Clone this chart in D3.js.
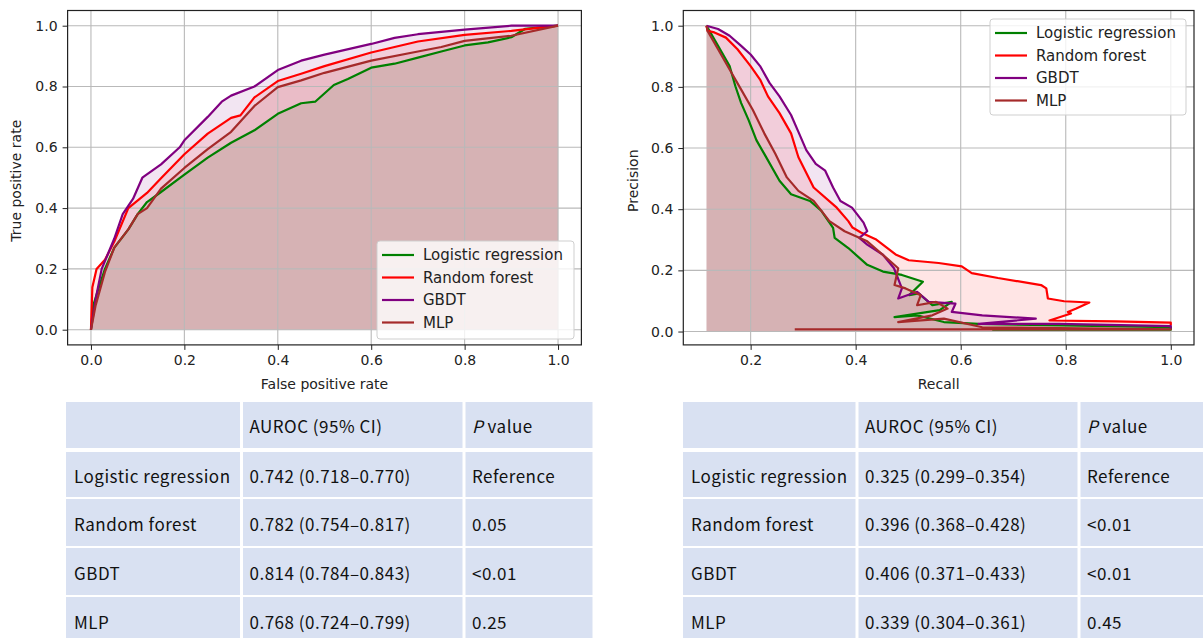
<!DOCTYPE html>
<html>
<head>
<meta charset="utf-8">
<script src="https://cdn.jsdelivr.net/npm/d3@7"></script>
<style>
  body { margin: 0; background: #fff; }
  svg { display: block; }
  .chart text { font-family: "DejaVu Sans", sans-serif; fill: #222; }
  .tbl text { font-family: "Noto Sans CJK JP", "Noto Sans", sans-serif; fill: #111; font-size: 17px; letter-spacing: 0.5px; }
</style>
</head>
<body>
<svg id="fig"></svg>
<script>
const models = ["Logistic regression", "Random forest", "GBDT", "MLP"];
const colors = ["#008000", "#ff0000", "#800080", "#a52a2a"];

// ROC curves, [false positive rate, true positive rate]
const rocLR = [[0,0],[0.005,0.08],[0.015,0.13],[0.03,0.2],[0.05,0.27],[0.08,0.33],[0.1,0.38],[0.12,0.42],[0.15,0.453],[0.2,0.51],[0.25,0.566],[0.3,0.615],[0.35,0.656],[0.4,0.71],[0.45,0.745],[0.48,0.75],[0.52,0.805],[0.55,0.825],[0.6,0.862],[0.65,0.875],[0.7,0.895],[0.75,0.915],[0.8,0.935],[0.85,0.945],[0.9,0.962],[0.93,0.99],[1,1]];
const rocRF = [[0,0],[0.003,0.14],[0.012,0.2],[0.03,0.23],[0.05,0.29],[0.08,0.4],[0.12,0.45],[0.15,0.498],[0.2,0.577],[0.25,0.645],[0.3,0.697],[0.32,0.705],[0.35,0.764],[0.4,0.818],[0.45,0.842],[0.5,0.867],[0.6,0.912],[0.7,0.948],[0.8,0.97],[0.9,0.983],[1,1]];
const rocGB = [[0,0],[0.01,0.1],[0.023,0.2],[0.05,0.3],[0.068,0.38],[0.09,0.43],[0.11,0.5],[0.15,0.544],[0.19,0.6],[0.2,0.623],[0.25,0.7],[0.28,0.75],[0.3,0.77],[0.35,0.8],[0.4,0.854],[0.45,0.885],[0.5,0.905],[0.6,0.94],[0.65,0.96],[0.7,0.972],[0.8,0.987],[0.9,1.0],[1,1]];
const rocMLP = [[0,0],[0.01,0.08],[0.03,0.19],[0.05,0.27],[0.08,0.33],[0.1,0.38],[0.12,0.4],[0.15,0.464],[0.2,0.532],[0.25,0.594],[0.3,0.651],[0.35,0.736],[0.4,0.798],[0.45,0.82],[0.5,0.845],[0.6,0.885],[0.7,0.915],[0.75,0.93],[0.8,0.95],[0.9,0.967],[1,1]];

// Precision-recall curves, [recall, precision]
const prLR = [[0.116,1.0],[0.118,0.994],[0.138,0.934],[0.16,0.868],[0.171,0.802],[0.182,0.747],[0.196,0.692],[0.211,0.626],[0.226,0.581],[0.255,0.493],[0.277,0.449],[0.313,0.427],[0.335,0.394],[0.357,0.339],[0.36,0.306],[0.386,0.273],[0.422,0.218],[0.452,0.196],[0.488,0.185],[0.528,0.163],[0.502,0.119],[0.52,0.125],[0.546,0.086],[0.583,0.097],[0.56,0.07],[0.474,0.047],[0.517,0.053],[0.568,0.031],[0.634,0.025],[1.0,0.014],[1.0,0.006],[0.66,0.006]];
const prRF = [[0.116,1.0],[0.118,0.983],[0.131,0.978],[0.153,0.961],[0.175,0.923],[0.2,0.868],[0.218,0.824],[0.233,0.769],[0.255,0.714],[0.277,0.648],[0.291,0.57],[0.32,0.471],[0.364,0.405],[0.386,0.361],[0.394,0.34],[0.41,0.324],[0.438,0.302],[0.476,0.252],[0.501,0.233],[0.558,0.224],[0.602,0.213],[0.621,0.191],[0.671,0.175],[0.753,0.152],[0.763,0.141],[0.766,0.108],[0.797,0.099],[0.845,0.095],[0.82,0.075],[0.804,0.064],[0.81,0.059],[0.769,0.036],[0.895,0.033],[1.0,0.029],[1.0,0.02]];
const prGB = [[0.116,1.0],[0.138,0.989],[0.16,0.967],[0.182,0.934],[0.2,0.906],[0.218,0.868],[0.236,0.813],[0.255,0.769],[0.277,0.708],[0.291,0.653],[0.306,0.593],[0.324,0.548],[0.342,0.526],[0.357,0.471],[0.371,0.427],[0.393,0.405],[0.415,0.356],[0.422,0.328],[0.407,0.306],[0.422,0.284],[0.452,0.251],[0.473,0.207],[0.488,0.141],[0.481,0.108],[0.517,0.13],[0.539,0.097],[0.59,0.091],[0.583,0.064],[0.641,0.053],[0.743,0.042],[0.634,0.025],[0.787,0.025],[1.0,0.018],[1.0,0.009]];
const prMLP = [[0.116,1.0],[0.118,0.983],[0.138,0.923],[0.16,0.857],[0.182,0.791],[0.204,0.725],[0.226,0.648],[0.247,0.581],[0.269,0.504],[0.291,0.46],[0.32,0.427],[0.35,0.361],[0.379,0.328],[0.422,0.295],[0.459,0.24],[0.481,0.207],[0.474,0.152],[0.495,0.141],[0.524,0.119],[0.517,0.086],[0.553,0.097],[0.575,0.075],[0.546,0.053],[0.481,0.031],[0.568,0.042],[0.641,0.014],[1.0,0.007],[0.284,0.007]];

const rocTicksX = [0, 0.2, 0.4, 0.6, 0.8, 1.0];
const prTicksX = [0.2, 0.4, 0.6, 0.8, 1.0];
const ticksY = [0, 0.2, 0.4, 0.6, 0.8, 1.0];

// tables
const tableHeader = ["", "AUROC (95% CI)", "P value"];
const rocAuc = ["0.742 (0.718–0.770)", "0.782 (0.754–0.817)", "0.814 (0.784–0.843)", "0.768 (0.724–0.799)"];
const rocP = ["Reference", "0.05", "<0.01", "0.25"];
const prAuc = ["0.325 (0.299–0.354)", "0.396 (0.368–0.428)", "0.406 (0.371–0.433)", "0.339 (0.304–0.361)"];
const prP = ["Reference", "<0.01", "<0.01", "0.45"];

const W = 1203, H = 638;
const svg = d3.select("#fig").attr("width", W).attr("height", H);

function pad(ext) {
  const m = (ext[1] - ext[0]) * 0.05;
  return [ext[0] - m, ext[1] + m];
}

function drawPanel(opt) {
  const curves = opt.series.map((v, i) => ({ name: models[i], color: colors[i], values: v }));
  const allX = curves.flatMap(c => c.values.map(d => d[0]));
  const allY = curves.flatMap(c => c.values.map(d => d[1]));
  const x = d3.scaleLinear().domain(pad(d3.extent(allX))).range(opt.xRange);
  const y = d3.scaleLinear().domain(pad(d3.extent(allY))).range(opt.yRange);
  const [x0, x1] = opt.xRange, [y0, y1] = [opt.yRange[1], opt.yRange[0]];

  const g = svg.append("g").attr("class", "chart");
  const clipId = "clip" + opt.id;
  g.append("clipPath").attr("id", clipId)
    .append("rect").attr("x", x0).attr("y", y0).attr("width", x1 - x0).attr("height", y1 - y0);
  const plot = g.append("g").attr("clip-path", `url(#${clipId})`);

  const area = d3.area().x(d => x(d[0])).y0(y(0)).y1(d => y(d[1]));
  const line = d3.line().x(d => x(d[0])).y(d => y(d[1]));

  plot.append("g").selectAll("path").data(curves).join("path")
    .attr("d", d => area(d.values))
    .attr("fill", d => d.color)
    .attr("fill-opacity", 0.1);

  // grid
  plot.append("g").selectAll("line").data(opt.xTicks).join("line")
    .attr("x1", d => x(d)).attr("x2", d => x(d)).attr("y1", y0).attr("y2", y1)
    .attr("stroke", "#b9b9b9").attr("stroke-width", 1.1);
  plot.append("g").selectAll("line").data(ticksY).join("line")
    .attr("y1", d => y(d)).attr("y2", d => y(d)).attr("x1", x0).attr("x2", x1)
    .attr("stroke", "#b9b9b9").attr("stroke-width", 1.1);

  plot.append("g").selectAll("path").data(curves).join("path")
    .attr("d", d => line(d.values))
    .attr("fill", "none")
    .attr("stroke", d => d.color)
    .attr("stroke-width", 2.2)
    .attr("stroke-linejoin", "round");

  // axes
  const xAxis = g.append("g").attr("transform", `translate(0,${y1})`)
    .call(d3.axisBottom(x).tickValues(opt.xTicks).tickSize(5).tickPadding(5).tickFormat(d3.format(".1f")));
  const yAxis = g.append("g").attr("transform", `translate(${x0},0)`)
    .call(d3.axisLeft(y).tickValues(ticksY).tickSize(5).tickPadding(5).tickFormat(d3.format(".1f")));
  [xAxis, yAxis].forEach(a => {
    a.select(".domain").remove();
    a.selectAll("line").attr("stroke", "#222");
    a.selectAll("text").style("font-size", "14px").attr("fill", "#222");
  });

  g.append("rect").attr("x", x0).attr("y", y0).attr("width", x1 - x0).attr("height", y1 - y0)
    .attr("fill", "none").attr("stroke", "#222").attr("stroke-width", 1.2);

  g.append("text").attr("x", (x0 + x1) / 2).attr("y", 389).attr("text-anchor", "middle")
    .style("font-size", "14px").text(opt.xLabel);
  g.append("text").attr("transform", `translate(${opt.yLabelX},${(y0 + y1) / 2 + 3}) rotate(-90)`)
    .attr("text-anchor", "middle").style("font-size", "14px").text(opt.yLabel);

  // legend
  const lb = opt.legend;
  const lg = g.append("g").attr("transform", `translate(${lb.x},${lb.y})`);
  lg.append("rect").attr("width", lb.w).attr("height", lb.h).attr("rx", 3)
    .attr("fill", "#fff").attr("fill-opacity", 0.8).attr("stroke", "#cfcfcf");
  const item = lg.selectAll("g.item").data(curves).join("g").attr("class", "item")
    .attr("transform", (d, i) => `translate(0,${14 + i * 22.5})`);
  item.append("line").attr("x1", 5).attr("x2", 37).attr("stroke", d => d.color).attr("stroke-width", 2.2);
  item.append("text").attr("x", 46).attr("dy", "0.35em").style("font-size", "15px").text(d => d.name);
}

drawPanel({
  id: "roc", series: [rocLR, rocRF, rocGB, rocMLP],
  xRange: [67.6, 581.4], yRange: [344.9, 10.5], xTicks: rocTicksX,
  xLabel: "False positive rate", yLabel: "True positive rate", yLabelX: 21,
  legend: { x: 377, y: 241, w: 197, h: 98 }
});
drawPanel({
  id: "pr", series: [prLR, prRF, prGB, prMLP],
  xRange: [683.3, 1194], yRange: [344.9, 10.5], xTicks: prTicksX,
  xLabel: "Recall", yLabel: "Precision", yLabelX: 638,
  legend: { x: 990, y: 19, w: 196, h: 96 }
});

function drawTable(colEdges, auc, pv) {
  const rowTops = [402, 452, 499, 548, 597];
  const rowBottoms = [448, 497, 546, 595, 645];
  const rows = [tableHeader].concat(models.map((m, i) => [m, auc[i], pv[i]]));
  const g = svg.append("g").attr("class", "tbl");
  rows.forEach((r, ri) => {
    r.forEach((cell, ci) => {
      const left = colEdges[ci] + (ci > 0 ? 1.5 : 0);
      const right = colEdges[ci + 1] - 1.5;
      g.append("rect").attr("x", left).attr("y", rowTops[ri])
        .attr("width", right - left).attr("height", rowBottoms[ri] - rowTops[ri])
        .attr("fill", "#d9e1f2");
      const t = g.append("text").attr("x", colEdges[ci] + 8)
        .attr("y", (rowTops[ri] + rowBottoms[ri]) / 2 + 2)
        .attr("dy", "0.36em");
      if (ri === 0 && ci === 2) {
        t.append("tspan").attr("font-style", "italic").text("P");
        t.append("tspan").text(" value");
      } else {
        t.text(cell);
      }
    });
  });
}

drawTable([66, 241.5, 464, 594], rocAuc, rocP);
drawTable([683, 857, 1079, 1215], prAuc, prP);
</script>
</body>
</html>
